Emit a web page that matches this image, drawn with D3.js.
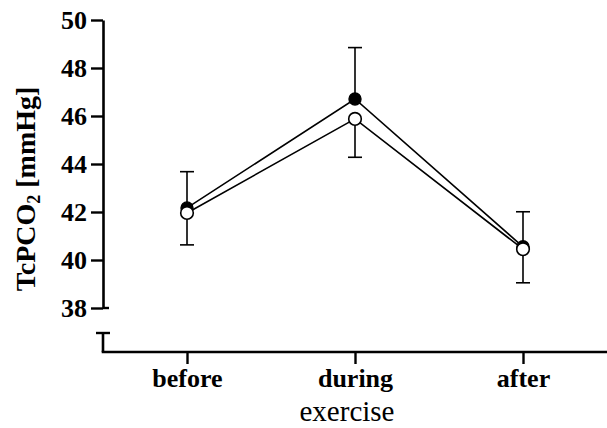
<!DOCTYPE html>
<html>
<head>
<meta charset="utf-8">
<script src="https://cdn.jsdelivr.net/npm/d3@7"></script>
<style>
  html, body { margin: 0; padding: 0; background: #fff; }
  svg { display: block; }
</style>
</head>
<body>
<svg id="chart" width="607" height="428"></svg>
<script>
// ---- data ----
const categories = ["before", "during", "after"];
const filledMeans = [42.17, 46.71, 40.55];
const filledUpperSD = [1.51, 2.14, 1.46];   // error bar above filled series
const openMeans = [41.96, 45.88, 40.45];
const openLowerSD = [1.33, 1.60, 1.40];     // error bar below open series
const yTicks = [38, 40, 42, 44, 46, 48, 50];
const yLabel = "TcPCO";
const xLabel = "exercise";

const FONT = "'Liberation Serif', 'Times New Roman', 'DejaVu Serif', serif";
const svg = d3.select("#chart");

const axisX = 103;        // y-axis position
const xAxisY = 352;       // x-axis position
const x = d3.scalePoint().domain(categories).range([187, 523]);
const y = d3.scaleLinear().domain([38, 50]).range([308, 20]);

// ---- y axis ----
const yAxis = d3.axisLeft(y).tickValues(yTicks).tickSize(12).tickPadding(4).tickSizeOuter(0);
const gy = svg.append("g").attr("transform", `translate(${axisX},0)`).call(yAxis)
  .attr("font-family", null).attr("font-size", null);
gy.select(".domain").attr("stroke", "#000").attr("stroke-width", 2.6);
gy.selectAll(".tick line").attr("stroke", "#000").attr("stroke-width", 2.4);
gy.selectAll(".tick text")
  .style("font-family", FONT).style("font-size", "26px").style("font-weight", "bold")
  .attr("fill", "#000").attr("dy", "0.34em");
// cap at bottom end of upper segment
svg.append("line").attr("x1", axisX).attr("x2", axisX + 6)
  .attr("y1", y(38)).attr("y2", y(38)).attr("stroke", "#000").attr("stroke-width", 2.4);

// ---- broken lower segment + x axis ----
const breakTop = 333;
svg.append("line").attr("x1", axisX - 7).attr("x2", axisX + 7)
  .attr("y1", breakTop).attr("y2", breakTop).attr("stroke", "#000").attr("stroke-width", 2.4);
svg.append("line").attr("x1", axisX).attr("x2", axisX)
  .attr("y1", breakTop).attr("y2", xAxisY).attr("stroke", "#000").attr("stroke-width", 2.6);

const xAxis = d3.axisBottom(x).tickSize(12).tickPadding(5).tickSizeOuter(0);
const gx = svg.append("g").attr("transform", `translate(0,${xAxisY})`).call(xAxis)
  .attr("font-family", null).attr("font-size", null);
gx.select(".domain").attr("d", `M${axisX - 1.3},0H607`).attr("stroke", "#000").attr("stroke-width", 2.6);
gx.selectAll(".tick line").attr("stroke", "#000").attr("stroke-width", 2.4);
gx.selectAll(".tick text").style("font-family", FONT).style("font-size", "26px")
  .style("font-weight", "bold").attr("fill", "#000");

// ---- axis titles ----
const yt = svg.append("text")
  .attr("transform", "translate(35,189) rotate(-90)")
  .attr("text-anchor", "middle")
  .style("font-family", FONT).style("font-size", "28px").style("font-weight", "bold");
yt.append("tspan").text(yLabel);
yt.append("tspan").text("2").attr("dy", "0.3em").style("font-size", "18px");
yt.append("tspan").text(" [mmHg]").attr("dy", "-0.2em");

svg.append("text").attr("x", 347).attr("y", 421).attr("text-anchor", "middle")
  .style("font-family", FONT).style("font-size", "29px").text(xLabel);

// ---- error bars ----
const capW = 7;
function errorBars(means, sd, dir) {
  const g = svg.append("g").attr("stroke", "#000").attr("stroke-width", 1.6);
  categories.forEach((c, i) => {
    const cx = x(c), y0 = y(means[i]), y1 = y(means[i] + dir * sd[i]);
    g.append("line").attr("x1", cx).attr("x2", cx).attr("y1", y0).attr("y2", y1);
    g.append("line").attr("x1", cx - capW).attr("x2", cx + capW).attr("y1", y1).attr("y2", y1);
  });
}
errorBars(filledMeans, filledUpperSD, 1);
errorBars(openMeans, openLowerSD, -1);

// ---- lines ----
const line = d3.line().x((d, i) => x(categories[i])).y(d => y(d));
svg.append("path").datum(filledMeans).attr("d", line)
  .attr("fill", "none").attr("stroke", "#000").attr("stroke-width", 1.6);
svg.append("path").datum(openMeans).attr("d", line)
  .attr("fill", "none").attr("stroke", "#000").attr("stroke-width", 1.6);

// ---- points ----
svg.append("g").selectAll("circle").data(filledMeans).join("circle")
  .attr("cx", (d, i) => x(categories[i])).attr("cy", d => y(d)).attr("r", 6)
  .attr("fill", "#000").attr("stroke", "#000").attr("stroke-width", 1.4);
svg.append("g").selectAll("circle").data(openMeans).join("circle")
  .attr("cx", (d, i) => x(categories[i])).attr("cy", d => y(d)).attr("r", 6.3)
  .attr("fill", "#fff").attr("stroke", "#000").attr("stroke-width", 1.6);
</script>
</body>
</html>
